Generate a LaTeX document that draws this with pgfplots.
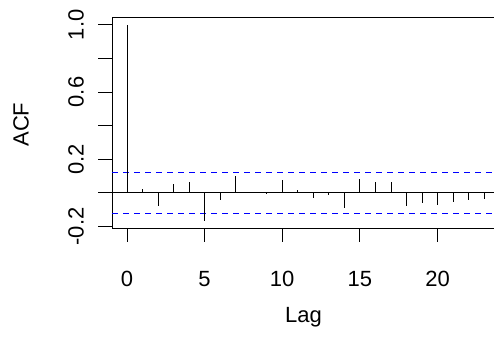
\documentclass[border=0pt]{standalone}
\usepackage{fontspec}
\setmainfont{Liberation Sans}
\usepackage{pgfplots}
\pgfplotsset{compat=1.18}
\definecolor{rblue}{RGB}{0,0,255}
\begin{document}
\begin{tikzpicture}[x=1pt,y=1pt]
\begin{axis}[
  at={(112pt,125pt)}, anchor=south west,
  scale only axis, width=383pt, height=211pt,
  xmin=-0.96, xmax=23.70, ymin=-0.2095, ymax=1.0465,
  axis line style={line width=0.8pt},
  xtick={0,5,10,15,20}, xticklabels={0,5,10,15,20},
  ytick={-0.2,0,0.2,0.4,0.6,0.8,1.0}, yticklabels={-0.2,,0.2,,0.6,,1.0},
  tick align=outside, major tick length=13.5pt,
  tick style={line width=0.8pt, black},
  xtick pos=bottom, ytick pos=left,
  every tick label/.append style={font=\fontsize{22}{26}\selectfont},
  xticklabel style={anchor=base, yshift=-45pt},
  yticklabel style={rotate=90, anchor=base, yshift=15pt},
  xlabel={Lag}, ylabel={ACF},
  label style={font=\fontsize{22}{26}\selectfont},
  xlabel style={at={(axis description cs:0.5,-0.4496)}, anchor=base},
  ylabel style={at={(axis description cs:-0.2376,0.49)}, anchor=center, rotate=0},
  unbounded coords=jump,
  clip=true,
]
\addplot[black, line width=0.8pt, forget plot] coordinates {(-5,0) (30,0)};
\addplot[draw=rblue, line width=1pt, dash pattern=on 6pt off 5pt, forget plot] coordinates {
(-0.96,0.1225) (30,0.1225) (0,nan) (-0.96,-0.1225) (30,-0.1225)};
\addplot[ycomb, black, line width=0.8pt, mark=none] coordinates {
(0,1.0)(1,0.020)(2,-0.079)(3,0.050)(4,0.067)(5,-0.165)(6,-0.044)(7,0.098)
(8,0.004)(9,-0.003)(10,0.075)(11,0.019)(12,-0.033)(13,-0.014)(14,-0.089)
(15,0.085)(16,0.066)(17,0.066)(18,-0.080)(19,-0.063)(20,-0.072)(21,-0.055)
(22,-0.044)(23,-0.034)(24,-0.030)};
\end{axis}
\pgfresetboundingbox
\path[use as bounding box] (0,0) rectangle (494,353);
\end{tikzpicture}
\end{document}
